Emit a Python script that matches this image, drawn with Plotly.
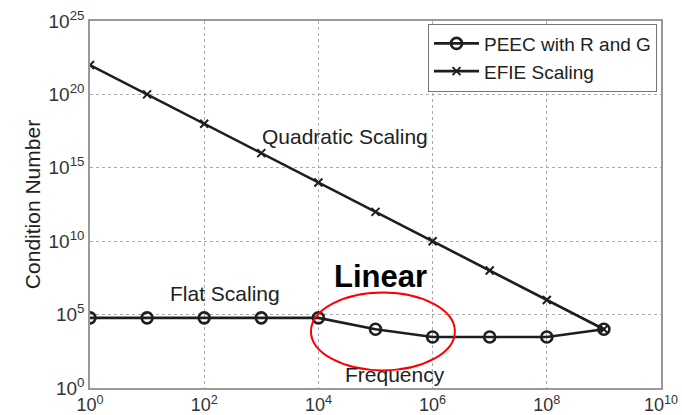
import plotly.graph_objects as go

# Frequency sweep (Hz) and condition numbers for the two formulations
frequency = [1e0, 1e1, 1e2, 1e3, 1e4, 1e5, 1e6, 1e7, 1e8, 1e9]
peec_rg = [6e4, 6e4, 6e4, 6e4, 6e4, 1e4, 3e3, 3e3, 3e3, 1e4]
efie = [1e22, 1e20, 1e18, 1e16, 1e14, 1e12, 1e10, 1e8, 1e6, 1e4]

x_tick_exp = [0, 2, 4, 6, 8, 10]
y_tick_exp = [0, 5, 10, 15, 20, 25]
x_tick_text = [f"10<sup>{e}</sup>" for e in x_tick_exp]
y_tick_text = [f"10<sup>{e}</sup>" for e in y_tick_exp]

line_col = "#1e1e1e"
axis_col = "#999999"
text_col = "#222222"
font_family = "Liberation Sans, Arial, sans-serif"

fig = go.Figure()
fig.add_trace(go.Scatter(
    x=frequency, y=peec_rg, name="PEEC with R and G",
    mode="lines+markers",
    line=dict(color=line_col, width=2.6),
    marker=dict(symbol="circle-open", size=11, color=line_col,
                line=dict(width=2.6, color=line_col)),
))
fig.add_trace(go.Scatter(
    x=frequency, y=efie, name="EFIE Scaling",
    mode="lines+markers",
    line=dict(color=line_col, width=2.6),
    marker=dict(symbol="x-thin-open", size=8, color=line_col,
                line=dict(width=2, color=line_col)),
))

axis_common = dict(
    showline=True, linecolor=axis_col, linewidth=1.5, mirror=True,
    showgrid=True, gridcolor="#aaaaaa", griddash="dot", gridwidth=1,
    ticks="", zeroline=False, automargin=False,
)

fig.update_xaxes(
    type="log", range=[0, 10],
    tickvals=[10.0 ** e for e in x_tick_exp], ticktext=x_tick_text,
    tickfont=dict(size=18, color="#333333", family=font_family),
    **axis_common,
)
fig.update_yaxes(
    type="log", range=[0, 25],
    tickvals=[10.0 ** e for e in y_tick_exp], ticktext=y_tick_text,
    tickfont=dict(size=19, color="#333333", family=font_family),
    title=dict(text="Condition Number", standoff=2,
               font=dict(size=21, color=text_col, family=font_family)),
    **axis_common,
)

label_font = dict(size=21, color=text_col, family=font_family)
fig.add_annotation(x=4.47, y=17.1, text="Quadratic Scaling", showarrow=False, font=label_font)
fig.add_annotation(x=2.36, y=6.46, text="Flat Scaling", showarrow=False, font=label_font)
fig.add_annotation(x=5.34, y=0.95, text="Frequency", showarrow=False, font=label_font)
fig.add_annotation(x=5.08, y=7.6, text="<b>Linear</b>", showarrow=False,
                   font=dict(size=31, color="black", family=font_family))

# Red ellipse around the linear-scaling region
fig.add_shape(type="circle", xref="x", yref="y",
              x0=10 ** 3.87, x1=10 ** 6.39, y0=10 ** 1.2, y1=10 ** 6.5,
              line=dict(color="red", width=2))

fig.update_layout(
    width=682, height=415,
    margin=dict(l=90, r=21, t=21, b=27),
    paper_bgcolor="white", plot_bgcolor="white",
    showlegend=True,
    legend=dict(
        x=0.993, xanchor="right", y=0.993, yanchor="top",
        bgcolor="white", bordercolor="#777777", borderwidth=1,
        font=dict(size=19, color=text_col, family=font_family),
        tracegroupgap=0, itemwidth=45,
    ),
    font=dict(family=font_family),
)

fig.write_html("out.html")
